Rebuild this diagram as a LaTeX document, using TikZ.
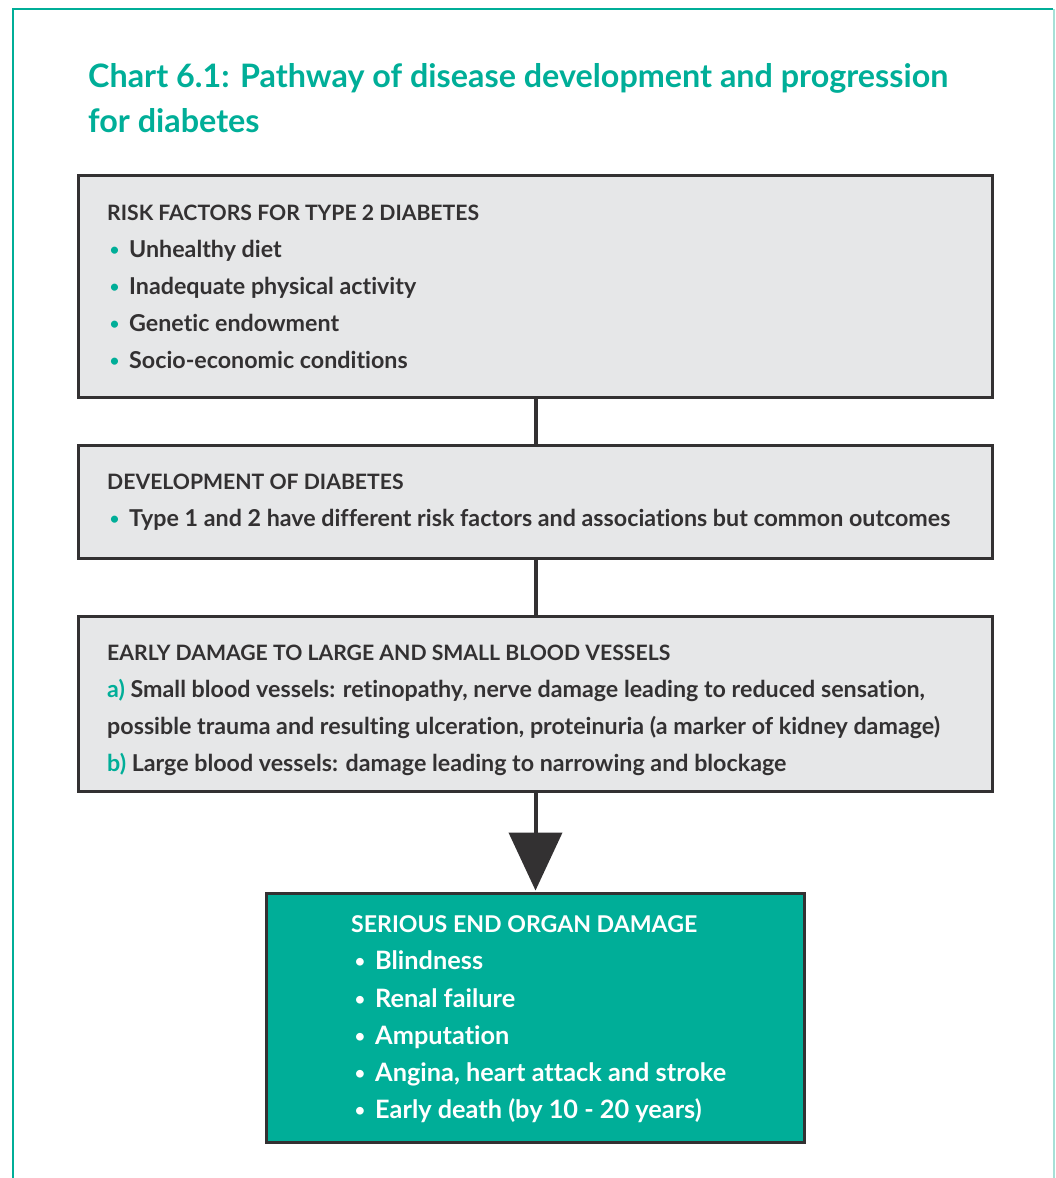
\documentclass[tikz,border=0pt]{standalone}
\usepackage{fontspec}
\usepackage{graphicx}
\setmainfont{Lato}[Ligatures={NoCommon}]
\usetikzlibrary{arrows.meta}
\definecolor{tl}{HTML}{00AE98}
\definecolor{tllight}{HTML}{A6E0D6}
\definecolor{dk}{HTML}{333132}
\definecolor{gr}{HTML}{E6E7E8}
\newlength\tmplen
\newcommand\calcsize[3]{%
  \settowidth\tmplen{\fontsize{10pt}{12pt}\selectfont\bfseries #3}%
  \pgfmathparse{10*#2/\tmplen}\xdef#1{\pgfmathresult}}
\begin{document}
\begin{tikzpicture}[x=1pt,y=-1pt]
\pgfinterruptpicture
\calcsize{\titlesz}{860}{Chart 6.1: Pathway of disease development and progression}
\calcsize{\bodysz}{821}{Type 1 and 2 have different risk factors and associations but common outcomes}
\calcsize{\headsz}{563}{EARLY DAMAGE TO LARGE AND SMALL BLOOD VESSELS}
\calcsize{\greensz}{351}{Angina, heart attack and stroke}
\calcsize{\greenhsz}{346}{SERIOUS END ORGAN DAMAGE}
\endpgfinterruptpicture
\useasboundingbox (0,0) rectangle (1055,1178);
\tikzset{
  graybox/.style={draw=dk, line width=3pt, fill=gr, rectangle, inner sep=0pt, outer sep=0pt, anchor=north west},
  greenbox/.style={draw=dk, line width=3pt, fill=tl, rectangle, inner sep=0pt, outer sep=0pt, anchor=north west},
  titletxt/.style={anchor=base west, inner sep=0pt, text=tl, font=\bfseries\fontsize{\titlesz}{\titlesz}\selectfont},
  headtxt/.style={anchor=base west, inner sep=0pt, text=dk, font=\bfseries\fontsize{\headsz}{\headsz}\selectfont},
  bodytxt/.style={anchor=base west, inner sep=0pt, text=dk, font=\bfseries\fontsize{\bodysz}{\bodysz}\selectfont},
  ghead/.style={anchor=base west, inner sep=0pt, text=white, font=\bfseries\fontsize{\greenhsz}{\greenhsz}\selectfont},
  gbody/.style={anchor=base west, inner sep=0pt, text=white, font=\bfseries\fontsize{\greensz}{\greensz}\selectfont},
  conn/.style={draw=dk, line width=4pt},
}
\newcommand\tbul{\llap{\textcolor{tl}{\raisebox{2pt}{\scalebox{0.7}{•}}}\hspace{10pt}}}
\newcommand\wbul{\llap{\textcolor{white}{\raisebox{2pt}{\scalebox{0.7}{•}}}\hspace{10pt}}}
% outer frame
\draw[tl, line width=2.5pt] (13,1178) -- (13,9) -- (1053,9);
\draw[tllight, line width=1.5pt] (1054,9) -- (1054,1178);
% title
\node[titletxt] (t1) at (88,87) {Chart 6.1: Pathway of disease development and progression};
\node[titletxt] (t2) at (88,132) {for diabetes};
% boxes
\node[graybox, minimum width=914pt, minimum height=222pt] (b1) at (78.5,175.5) {};
\node[graybox, minimum width=914pt, minimum height=113pt] (b2) at (78.5,445.5) {};
\node[graybox, minimum width=914pt, minimum height=175pt] (b3) at (78.5,616.5) {};
\node[greenbox, minimum width=538pt, minimum height=249pt] (b4) at (266.5,893.5) {};
% connectors
\draw[conn] (b1.south) -- (b2.north);
\draw[conn] (b2.south) -- (b3.north);
\draw[conn, fill=dk, -{Triangle[length=58pt 0 0, width=53pt 0 0]}, shorten >=3pt] (b3.south) -- (b4.north);
% box 1 text
\node[headtxt] (h1) at (107,220) {RISK FACTORS FOR TYPE 2 DIABETES};
\node[bodytxt] (l11) at (129,257) {\tbul Unhealthy diet};
\node[bodytxt] (l12) at (129,294) {\tbul Inadequate physical activity};
\node[bodytxt] (l13) at (129,331) {\tbul Genetic endowment};
\node[bodytxt] (l14) at (129,368) {\tbul Socio-economic conditions};
% box 2 text
\node[headtxt] (h2) at (107,489) {DEVELOPMENT OF DIABETES};
\node[bodytxt] (l21) at (129,526) {\tbul Type 1 and 2 have different risk factors and associations but common outcomes};
% box 3 text
\node[headtxt] (h3) at (107,660) {EARLY DAMAGE TO LARGE AND SMALL BLOOD VESSELS};
\node[bodytxt] (l31) at (107,697) {\textcolor{tl}{a)} Small blood vessels: retinopathy, nerve damage leading to reduced sensation,};
\node[bodytxt] (l32) at (107,734) {possible trauma and resulting ulceration, proteinuria (a marker of kidney damage)};
\node[bodytxt] (l33) at (107,771) {\textcolor{tl}{b)} Large blood vessels: damage leading to narrowing and blockage};
% box 4 text
\node[ghead] (h4) at (351,932) {SERIOUS END ORGAN DAMAGE};
\node[gbody] (l41) at (375,969) {\wbul Blindness};
\node[gbody] (l42) at (375,1007) {\wbul Renal failure};
\node[gbody] (l43) at (375,1044) {\wbul Amputation};
\node[gbody] (l44) at (375,1081) {\wbul Angina, heart attack and stroke};
\node[gbody] (l45) at (375,1118) {\wbul Early death (by 10 - 20 years)};
\end{tikzpicture}
\end{document}
